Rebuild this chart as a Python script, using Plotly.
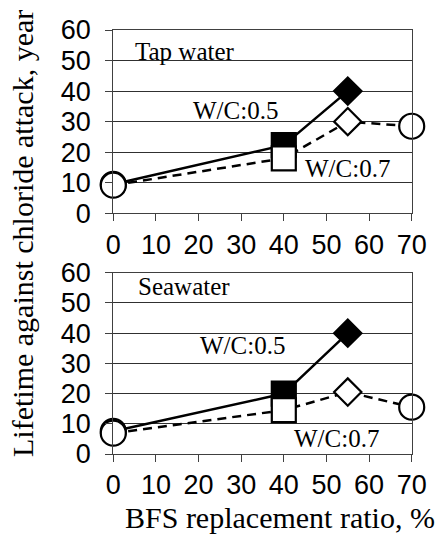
import plotly.graph_objects as go

# ---- data ----
x_wc05 = [0, 40, 55]
x_wc07 = [0, 40, 55, 70]
tap_wc05 = [9.5, 22.3, 40]
tap_wc07 = [9.2, 18, 30, 28.5]
sea_wc05 = [7.5, 20, 40]
sea_wc07 = [6.9, 14.5, 20.5, 15.5]
x_ticks = [0, 10, 20, 30, 40, 50, 60, 70]
y_ticks = [0, 10, 20, 30, 40, 50, 60]
panel_labels = ["Tap water", "Seawater"]
series_labels = ["W/C:0.5", "W/C:0.7"]
x_title = "BFS replacement ratio, %"
y_title = "Lifetime against chloride attack, year"

# ---- styles ----
W, H = 443, 534
SERIF = "Liberation Serif, Times New Roman, serif"
SANS = "Liberation Sans, Arial, sans-serif"
sym05 = ["circle", "square", "diamond"]
col05 = ["white", "black", "black"]
size05 = [25, 24, 21]
sym07 = ["circle", "square", "diamond", "circle"]
col07 = ["white", "white", "white", "white"]
size07 = [25, 24, 21, 25]

fig = go.Figure()

panels = [("x", "y", tap_wc05, tap_wc07), ("x2", "y2", sea_wc05, sea_wc07)]
for xa, ya, v05, v07 in panels:
    fig.add_trace(go.Scatter(x=x_wc05, y=v05, mode="lines", xaxis=xa, yaxis=ya,
                             line=dict(color="black", width=2.5), showlegend=False,
                             cliponaxis=False, hoverinfo="skip"))
    fig.add_trace(go.Scatter(x=x_wc07, y=v07, mode="lines", xaxis=xa, yaxis=ya,
                             line=dict(color="black", width=2.5, dash="9px,6px"),
                             showlegend=False, cliponaxis=False, hoverinfo="skip"))
    fig.add_trace(go.Scatter(x=x_wc05, y=v05, mode="markers", xaxis=xa, yaxis=ya,
                             marker=dict(symbol=sym05, color=col05, size=size05, opacity=1,
                                         line=dict(color="black", width=2.2)),
                             showlegend=False, cliponaxis=False, name=series_labels[0]))
    fig.add_trace(go.Scatter(x=x_wc07, y=v07, mode="markers", xaxis=xa, yaxis=ya,
                             marker=dict(symbol=sym07, color=col07, size=size07, opacity=1,
                                         line=dict(color="black", width=2.2)),
                             showlegend=False, cliponaxis=False, name=series_labels[1]))

xdom = [113.3 / W, 411.7 / W]
ydom_top = [1 - 213.3 / H, 1 - 30 / H]
ydom_bot = [1 - 454 / H, 1 - 272.7 / H]

def xax(anchor):
    return dict(domain=xdom, range=[0, 70], tickvals=x_ticks, ticks="outside",
                ticklen=7, tickcolor="#404040", tickwidth=1, showgrid=False,
                showline=True, linecolor="#404040", linewidth=1, mirror=True,
                zeroline=False, anchor=anchor, automargin=False,
                tickfont=dict(family=SANS, size=27, color="black"))

def yax(dom, anchor):
    return dict(domain=dom, range=[0, 60], tickvals=y_ticks, ticks="outside",
                ticklen=7, tickcolor="#404040", tickwidth=1, showgrid=True,
                gridcolor="#303030", gridwidth=1, ticklabelstandoff=9,
                showline=True, linecolor="#404040", linewidth=1, mirror=True,
                zeroline=False, anchor=anchor, automargin=False,
                tickfont=dict(family=SANS, size=27, color="black"))

annos = [
    dict(text=panel_labels[0], x=16.9, y=53.0, xref="x", yref="y"),
    dict(text=series_labels[0], x=28.7, y=33.6, xref="x", yref="y"),
    dict(text=series_labels[1], x=54.9, y=14.6, xref="x", yref="y"),
    dict(text=panel_labels[1], x=16.5, y=55.5, xref="x2", yref="y2"),
    dict(text=series_labels[0], x=30.2, y=35.8, xref="x2", yref="y2"),
    dict(text=series_labels[1], x=52.4, y=5.0, xref="x2", yref="y2"),
]
for a in annos:
    a.update(showarrow=False, xanchor="center", yanchor="middle",
             font=dict(family=SERIF, size=25, color="black"))

annos.append(dict(text=x_title, x=280 / W, y=1 - 517 / H, xref="paper", yref="paper",
                  showarrow=False, xanchor="center", yanchor="middle",
                  font=dict(family=SERIF, size=30, color="black")))
annos.append(dict(text=y_title, x=23 / W, y=1 - 234 / H, xref="paper", yref="paper",
                  showarrow=False, xanchor="center", yanchor="middle", textangle=-90,
                  font=dict(family=SERIF, size=30, color="black")))

fig.update_layout(
    width=W, height=H, template="none",
    margin=dict(l=0, r=0, t=0, b=0),
    paper_bgcolor="white", plot_bgcolor="white",
    xaxis=xax("y"), yaxis=yax(ydom_top, "x"),
    xaxis2=xax("y2"), yaxis2=yax(ydom_bot, "x2"),
    annotations=annos,
)

fig.write_html("out.html", config={"displayModeBar": False},
               post_script="document.body.style.margin='0';")
